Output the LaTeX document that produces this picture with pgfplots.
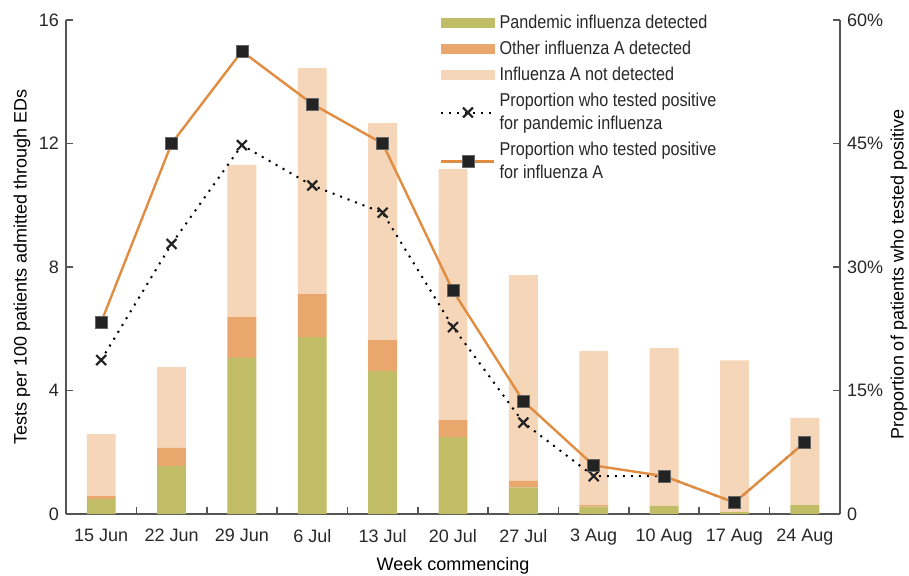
\documentclass[border=0pt]{standalone}
\usepackage{fontspec}
\setmainfont{Liberation Sans}
\newfontfamily\condfont{Liberation Sans}[FakeStretch=0.87]
\usepackage{pgfplots}
\usepackage{pgfplotstable}
\pgfplotsset{compat=1.18}
\definecolor{pand}{RGB}{193,188,102}
\definecolor{otherA}{RGB}{233,167,110}
\definecolor{notdet}{RGB}{246,214,185}
\definecolor{lineor}{RGB}{224,140,65}
\definecolor{mk}{RGB}{35,35,35}
\definecolor{spine}{RGB}{85,85,85}
\definecolor{txt}{RGB}{40,40,40}
\pgfplotsset{
  linelegend/.style={legend image code/.code={\draw[mark repeat=2,mark phase=2,##1] plot coordinates {(0pt,0pt)(13.25pt,0pt)(26.5pt,0pt)};}},
  barlegend/.style={legend image code/.code={\fill[#1] (0pt,-2.25pt) rectangle (26.5pt,2.25pt);}},
}
\pgfplotstableread{
x pand other notdet
0 0.49 0.09 2.01
1 1.56 0.58 2.62
2 5.06 1.32 4.93
3 5.73 1.39 7.32
4 4.63 1.00 7.03
5 2.49 0.55 8.13
6 0.86 0.22 6.66
7 0.24 0.05 4.99
8 0.26 0.00 5.11
9 0.06 0.00 4.92
10 0.29 0.00 2.82
}\bars
\pgfplotstableread{
x pand infA
0 18.7 23.3
1 32.8 45.0
2 44.8 56.2
3 39.9 49.8
4 36.6 45.0
5 22.7 27.1
6 11.1 13.7
7 4.6 5.9
8 4.6 4.6
9 1.4 1.4
10 8.7 8.7
}\lines
\begin{document}
\begin{tikzpicture}
\path[use as bounding box] (-33pt,-30.5pt) rectangle (421.5pt,257pt);
\pgfplotsset{
  common/.style={
    scale only axis, width=387pt, height=247pt,
    xmin=-0.5, xmax=10.5,
    font=\fontsize{9}{11}\selectfont,
    /pgf/number format/assume math mode=true,
    axis line style={spine, line width=0.8pt, -},
    every tick/.style={spine, line width=0.8pt},
    tick align=inside,
    major tick length=3.5pt, minor tick length=3.5pt,
    ticklabel style={text=txt},
    label style={text=txt, font=\fontsize{9.2}{11}\selectfont},
  }
}
\begin{axis}[common,
  ybar stacked, bar width=0.41,
  ymin=0, ymax=16, ytick={0,4,8,12,16},
  axis x line*=bottom, axis y line*=left,
  xtick={0,...,10},
  xticklabels={15 Jun,22 Jun,29 Jun,6 Jul,13 Jul,20 Jul,27 Jul,3 Aug,10 Aug,17 Aug,24 Aug},
  major x tick style={draw=none},
  minor xtick={0.5,1.5,...,9.5},
  xticklabel style={yshift=-4pt},
  xlabel={Week commencing},
  ylabel={Tests per 100 patients admitted through EDs},
  every axis x label/.style={at={(axis description cs:0.5,0)}, anchor=center, yshift=-26pt},
  every axis y label/.style={at={(axis description cs:0,0.5)}, anchor=center, rotate=90, yshift=22pt},
]
\addplot[fill=pand, draw=none] table[x=x, y=pand] {\bars};
\addplot[fill=otherA, draw=none] table[x=x, y=other] {\bars};
\addplot[fill=notdet, draw=none] table[x=x, y=notdet] {\bars};
\end{axis}
\begin{axis}[common,
  ymin=0, ymax=60, ytick={0,15,30,45,60},
  yticklabels={0,15\%,30\%,45\%,60\%},
  axis x line=none, axis y line*=right,
  ylabel={Proportion of patients who tested positive},
  every axis y label/.style={at={(axis description cs:1,0.485)}, anchor=center, rotate=90, yshift=-29.5pt},
  legend style={at={(0.483,1.02)}, anchor=north west, draw=none, fill=none, inner sep=0pt,
    font=\condfont\fontsize{9.3}{11.5}\selectfont, text=txt, cells={align=left}, row sep=0.8pt,
    /tikz/every even column/.append style={column sep=6pt}},
  legend cell align=left,
]
\addlegendimage{barlegend=pand}
\addlegendentry{Pandemic influenza detected}
\addlegendimage{barlegend=otherA}
\addlegendentry{Other influenza A detected}
\addlegendimage{barlegend=notdet}
\addlegendentry{Influenza A not detected}
\addplot[black, line width=1pt, dash pattern=on 1pt off 3pt, mark=x, mark size=3.5pt, mark options={solid, mk, line width=1.1pt}, linelegend]
  table[x=x, y=pand] {\lines};
\addlegendentry{Proportion who tested positive\\for pandemic influenza}
\addplot[lineor, line width=1.2pt, mark=square*, mark size=3pt, mark options={solid, fill=mk, draw=mk!70!white, line width=0.4pt}, linelegend]
  table[x=x, y=infA] {\lines};
\addlegendentry{Proportion who tested positive\\for influenza A}
\end{axis}
\end{tikzpicture}
\end{document}
